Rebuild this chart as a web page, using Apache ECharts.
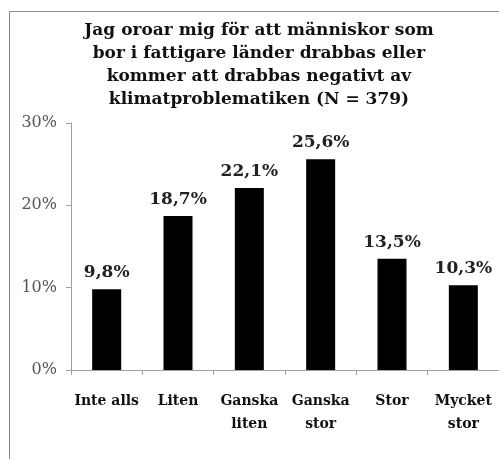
<!DOCTYPE html>
<html>
<head>
  <meta charset="utf-8" />
  <title>ECharts</title>
  <script src="https://cdn.jsdelivr.net/npm/echarts@6.0.0/dist/echarts.min.js"></script>
  <style>
    body { margin: 0; background: #fff; }
  </style>
</head>
<body>
  <div id="main" style="width: 499px;height:459px;"></div>
  <script type="text/javascript">
    // data
    var categories = ['Inte alls', 'Liten', 'Ganska\nliten', 'Ganska\nstor', 'Stor', 'Mycket\nstor'];
    var values = [9.8, 18.7, 22.1, 25.6, 13.5, 10.3];
    var yTicks = [0, 10, 20, 30];

    // wider serif, closer to the stretched look of the original
    var serif = '"DejaVu Serif", "Liberation Serif", serif';
    var axisGrey = '#a0a0a0';

    var myChart = echarts.init(document.getElementById('main'));

    var option = {
      backgroundColor: '#fff',
      animation: false,
      title: {
        text: 'Jag oroar mig för att människor som\nbor i fattigare länder drabbas eller\nkommer att drabbas negativt av\nklimatproblematiken (N = 379)',
        left: 254,
        top: 14,
        textAlign: 'center',
        textStyle: {
          fontFamily: serif,
          fontWeight: 'bold',
          fontSize: 17,
          lineHeight: 23,
          color: '#111'
        }
      },
      graphic: [{
        type: 'rect',
        shape: { x: 9.5, y: 11.5, width: 600, height: 600 },
        style: { fill: 'none', stroke: '#8a8a8a', lineWidth: 1 },
        silent: true
      }],
      grid: {
        left: 71,
        top: 123,
        width: 432,
        bottom: 89
      },
      xAxis: {
        type: 'category',
        data: categories,
        axisLine: { lineStyle: { color: axisGrey } },
        axisTick: { show: true, length: 5, lineStyle: { color: axisGrey } },
        axisLabel: {
          interval: 0,
          margin: 20,
          fontFamily: serif,
          fontWeight: 'bold',
          fontSize: 14,
          lineHeight: 23,
          color: '#111'
        }
      },
      yAxis: {
        type: 'value',
        min: yTicks[0],
        max: yTicks[yTicks.length - 1],
        interval: 10,
        axisLine: { show: true, lineStyle: { color: axisGrey } },
        axisTick: { show: true, length: 5, lineStyle: { color: axisGrey } },
        splitLine: { show: false },
        axisLabel: {
          formatter: '{value}%',
          margin: 14,
          fontFamily: serif,
          fontSize: 16,
          color: '#555'
        }
      },
      series: [{
        type: 'bar',
        data: values,
        barWidth: 29,
        itemStyle: { color: '#000' },
        label: {
          show: true,
          position: 'top',
          distance: 8,
          fontFamily: serif,
          fontWeight: 'bold',
          fontSize: 17,
          color: '#222',
          formatter: function (p) {
            return p.value.toFixed(1).replace('.', ',') + '%';
          }
        }
      }]
    };

    myChart.setOption(option);
  </script>
</body>
</html>
